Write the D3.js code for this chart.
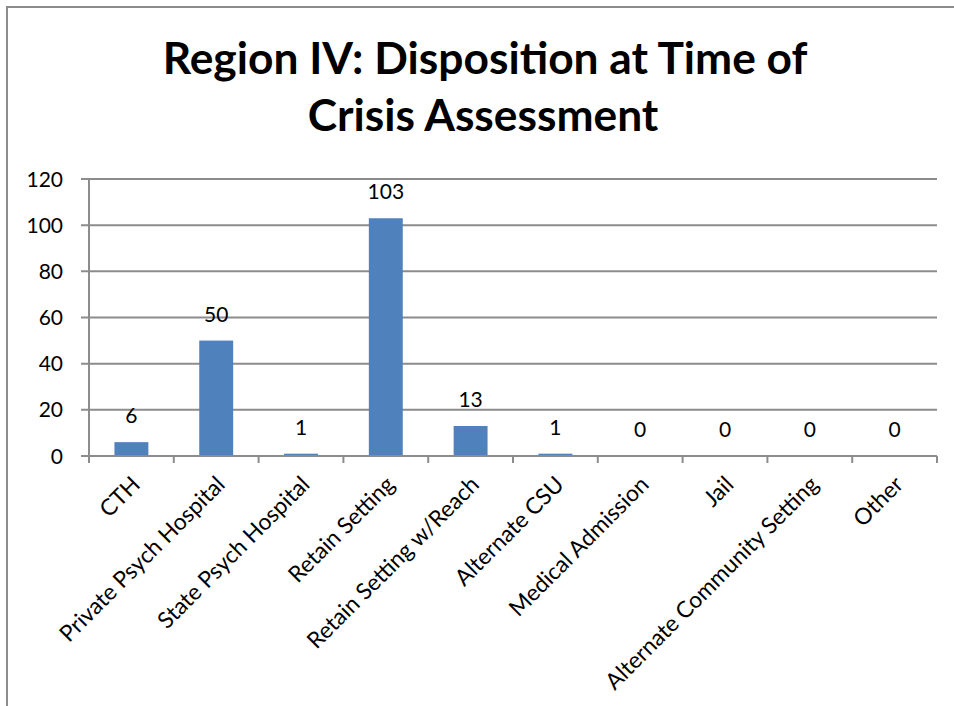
<!DOCTYPE html>
<html>
<head>
<meta charset="utf-8">
<script src="https://cdn.jsdelivr.net/npm/d3@7"></script>
<style>
  html, body { margin: 0; padding: 0; background: #fff; overflow: hidden; }
  svg { display: block; }
  text { font-family: Lato, "Open Sans", "DejaVu Sans", sans-serif; fill: #000; }
</style>
</head>
<body>
<div id="chart"></div>
<script>
// Disposition counts, Region IV
const categories = ['CTH', 'Private Psych Hospital', 'State Psych Hospital', 'Retain Setting',
  'Retain Setting w/Reach', 'Alternate CSU', 'Medical Admission', 'Jail',
  'Alternate Community Setting', 'Other'];
const counts = [6, 50, 1, 103, 13, 1, 0, 0, 0, 0];
const yTicks = [0, 20, 40, 60, 80, 100, 120];
const titleLines = ['Region IV: Disposition at Time of', 'Crisis Assessment'];

const W = 954, H = 706;
const plot = { left: 89, right: 937, top: 179, bottom: 456 };

const svg = d3.select('#chart').append('svg').attr('width', W).attr('height', H);

// outer chart border (right/bottom edges fall outside the frame)
svg.append('rect').attr('x', 7).attr('y', 7).attr('width', 980).attr('height', 740)
  .attr('fill', '#fff').attr('stroke', '#8c8c8c').attr('stroke-width', 2);

// title — first line sized to the reference width
const title = svg.append('g');
const t1 = title.append('text').attr('x', 485).attr('y', 74)
  .attr('text-anchor', 'middle').style('font-weight', '700').style('font-size', '36px')
  .text(titleLines[0]);
const fs = 36 * 645 / t1.node().getComputedTextLength();
t1.style('font-size', fs + 'px');
title.append('text').attr('x', 483).attr('y', 131)
  .attr('text-anchor', 'middle').style('font-weight', '700').style('font-size', fs + 'px')
  .text(titleLines[1]);

const x = d3.scaleBand().domain(categories).range([plot.left, plot.right]).paddingInner(0).paddingOuter(0);
const y = d3.scaleLinear().domain([0, 120]).range([plot.bottom, plot.top]);

const grid = '#8c8c8c';

// gridlines + left tick stubs
svg.append('g').selectAll('line').data(yTicks).enter().append('line')
  .attr('x1', plot.left - 8).attr('x2', plot.right)
  .attr('y1', d => y(d)).attr('y2', d => y(d))
  .attr('stroke', grid).attr('stroke-width', 2);

svg.append('g').selectAll('text').data(yTicks).enter().append('text')
  .attr('x', 63).attr('y', d => y(d)).attr('dy', '0.36em')
  .attr('text-anchor', 'end').style('font-size', '21px')
  .text(d => d);

// y axis line, extends down to category tick length
svg.append('line').attr('x1', plot.left).attr('x2', plot.left)
  .attr('y1', plot.top).attr('y2', plot.bottom + 7)
  .attr('stroke', grid).attr('stroke-width', 2);

// category tick marks at band boundaries
const bounds = categories.map(c => x(c) + x.bandwidth());
svg.append('g').selectAll('line').data(bounds).enter().append('line')
  .attr('x1', d => d).attr('x2', d => d)
  .attr('y1', plot.bottom).attr('y2', plot.bottom + 7)
  .attr('stroke', grid).attr('stroke-width', 2);

// bars
const bw = x.bandwidth() * 0.4;
const data = categories.map((c, i) => ({ c, v: counts[i] }));
svg.append('g').selectAll('rect').data(data).enter().append('rect')
  .attr('x', d => x(d.c) + x.bandwidth() / 2 - bw / 2)
  .attr('width', bw)
  .attr('y', d => y(d.v))
  .attr('height', d => y(0) - y(d.v))
  .attr('fill', '#4f81bd');

// x axis line on top of bars
svg.append('line').attr('x1', plot.left).attr('x2', plot.right)
  .attr('y1', plot.bottom).attr('y2', plot.bottom)
  .attr('stroke', grid).attr('stroke-width', 2);

// value labels
svg.append('g').selectAll('text').data(data).enter().append('text')
  .attr('x', d => x(d.c) + x.bandwidth() / 2)
  .attr('y', d => y(d.v) - 19)
  .attr('text-anchor', 'middle').style('font-size', '21px')
  .text(d => d.v);

// rotated category labels, size matched to the longest label
const probe = svg.append('text').style('font-size', '20px').text(categories[8]);
const lfs = 20 * 290 / probe.node().getComputedTextLength();
probe.remove();
svg.append('g').selectAll('text').data(categories).enter().append('text')
  .attr('transform', c => `translate(${x(c) + x.bandwidth() / 2 + 10},${plot.bottom + 30}) rotate(-45)`)
  .attr('text-anchor', 'end')
  .style('font-size', lfs + 'px')
  .text(c => c);
</script>
</body>
</html>
